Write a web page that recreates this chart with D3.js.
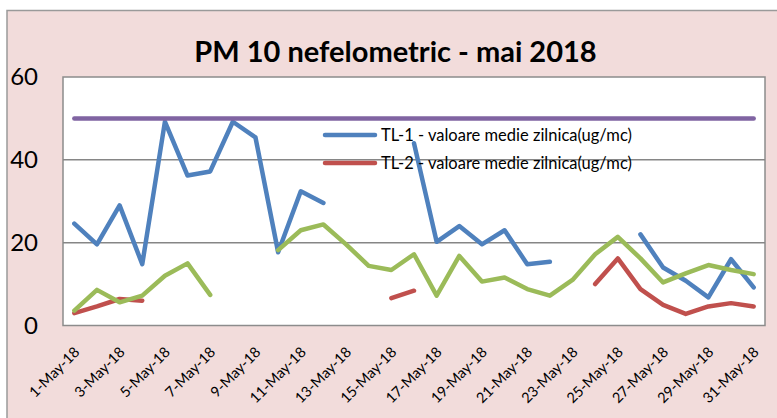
<!DOCTYPE html>
<html>
<head>
<meta charset="utf-8">
<script src="https://cdn.jsdelivr.net/npm/d3@7"></script>
<style>
  body { margin: 0; background: #fff; }
  text { font-family: Lato, "Open Sans", sans-serif; fill: #000; }
</style>
</head>
<body>
<svg id="chart" width="777" height="418"></svg>
<script>
// categories: one point per day of May 2018
var days = d3.range(1, 32).map(d => d + "-May-18");

// daily means (ug/mc), null where the station had no data
var tl1 = [24.6, 19.6, 29.0, 14.8, 49.2, 36.2, 37.2, 49.2, 45.4, 17.7, 32.4, 29.6, null, null, null,
  44.0, 20.2, 24.0, 19.6, 23.0, 14.8, 15.4, null, null, null, 22.0, 14.0, 10.8, 6.8, 16.0, 9.2];
var tl2 = [3.0, 4.6, 6.4, 6.0, null, null, null, null, null, null, null, null, null, null, 6.6,
  8.4, null, null, null, null, null, null, null, 10.0, 16.2, 8.8, 5.0, 2.8, 4.6, 5.4, 4.6];
var tl3 = [3.6, 8.6, 5.6, 7.2, 12.0, 15.0, 7.4, null, null, 18.2, 23.0, 24.4, 19.6, 14.4, 13.4,
  17.2, 7.2, 16.8, 10.6, 11.6, 8.8, 7.2, 11.0, 17.2, 21.4, 16.2, 10.4, 12.6, 14.6, 13.4, 12.4];
var limit = [50, 50, 50, 50, 50, 50, 50, 50, 50, 50, 50, 50, 50, 50, 50, 50,
  50, 50, 50, 50, 50, 50, 50, 50, 50, 50, 50, 50, 50, 50, 50];

var yTicks = [0, 20, 40, 60];
var legendNames = ["TL-1 - valoare medie zilnica(ug/mc)", "TL-2 - valoare medie zilnica(ug/mc)"];

var plot = { left: 63, right: 765, top: 77, bottom: 325.5 };

var svg = d3.select("#chart");

// chart area background
svg.append("rect")
  .attr("x", 7).attr("y", 10.5)
  .attr("width", 790).attr("height", 430)
  .attr("fill", "#f2dcdb")
  .attr("stroke", "#9a9a9a")
  .attr("stroke-width", 1.5);

var x = d3.scalePoint()
  .domain(days)
  .range([plot.left, plot.right])
  .padding(0.5);

var y = d3.scaleLinear()
  .domain([0, 60])
  .range([plot.bottom, plot.top]);

svg.append("rect")
  .attr("x", plot.left).attr("y", plot.top)
  .attr("width", plot.right - plot.left)
  .attr("height", plot.bottom - plot.top)
  .attr("fill", "#fff")
  .attr("stroke", "#8c8c8c")
  .attr("stroke-width", 1.5);

// gridlines
svg.selectAll(".grid")
  .data([20, 40])
  .enter()
  .append("line")
  .attr("class", "grid")
  .attr("x1", plot.left).attr("x2", plot.right)
  .attr("y1", d => y(d)).attr("y2", d => y(d))
  .attr("stroke", "#868686")
  .attr("stroke-width", 1.5);

// y axis
var yAxis = svg.append("g")
  .attr("transform", "translate(" + plot.left + ",0)")
  .call(d3.axisLeft(y).tickValues(yTicks).tickSize(0).tickPadding(25));
yAxis.select(".domain").remove();
yAxis.selectAll("text")
  .style("font-family", "Lato, sans-serif")
  .style("font-size", "24px")
  .attr("fill", "#000");

// x axis, every second day, rotated
var xAxis = svg.append("g")
  .attr("transform", "translate(0," + plot.bottom + ")")
  .call(d3.axisBottom(x).tickValues(days.filter((d, i) => i % 2 == 0)).tickSize(0));
xAxis.select(".domain").remove();
xAxis.selectAll("text")
  .style("font-family", "Lato, sans-serif")
  .style("font-size", "14.5px")
  .attr("fill", "#000")
  .attr("text-anchor", "end")
  .attr("dy", "0.35em")
  .attr("y", 0)
  .attr("transform", "translate(2,24) rotate(-45)");

// series
var line = d3.line()
  .defined(d => d != null)
  .x((d, i) => x(days[i]))
  .y(d => y(d));

var series = [
  { values: tl1, color: "#4f81bd" },
  { values: tl2, color: "#c0504d" },
  { values: tl3, color: "#9bbb59" },
  { values: limit, color: "#8064a2" }
];

svg.selectAll(".series")
  .data(series)
  .enter()
  .append("path")
  .attr("class", "series")
  .attr("d", d => line(d.values))
  .attr("fill", "none")
  .attr("stroke", d => d.color)
  .attr("stroke-width", 4.5)
  .attr("stroke-linejoin", "round")
  .attr("stroke-linecap", "round");

// legend (only the two station series are listed)
var legend = svg.selectAll(".legend")
  .data(legendNames)
  .enter()
  .append("g")
  .attr("class", "legend")
  .attr("transform", (d, i) => "translate(325," + (135 + i * 28) + ")");

legend.append("line")
  .attr("x1", 0).attr("x2", 50)
  .attr("stroke", (d, i) => series[i].color)
  .attr("stroke-width", 4.5)
  .attr("stroke-linecap", "round");

legend.append("text")
  .attr("x", 56)
  .attr("dy", "0.35em")
  .style("font-size", "16.5px")
  .text(d => d);

// title
svg.append("text")
  .attr("x", 395.5)
  .attr("y", 62)
  .attr("text-anchor", "middle")
  .style("font-size", "29px")
  .style("font-weight", "bold")
  .text("PM 10 nefelometric - mai 2018");
</script>
</body>
</html>
